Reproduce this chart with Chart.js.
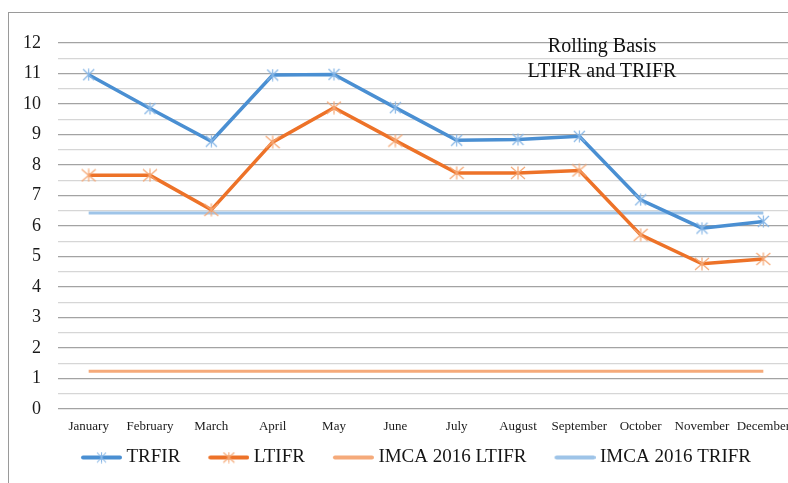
<!DOCTYPE html>
<html><head><meta charset="utf-8">
<script src="https://cdn.jsdelivr.net/npm/chart.js@4/dist/chart.umd.min.js"></script>
<style>
html,body{margin:0;padding:0;background:#fff;overflow:hidden;width:788px;height:483px;}
#frame{position:absolute;left:8px;top:12px;width:1000px;height:1000px;border:1px solid #9a9a9a;}
#wrap{position:absolute;left:0;top:0;width:814px;height:477px;}
#title{position:absolute;left:502px;width:200px;top:33px;text-align:center;font-family:"Liberation Serif",serif;font-size:20px;line-height:25px;color:#111;}
</style></head><body>
<div id="frame"></div>
<div id="wrap"><canvas id="c"></canvas></div>
<div id="title">Rolling Basis<br>LTIFR and TRIFR</div>
<script>
const months = ['January','February','March','April','May','June','July','August','September','October','November','December'];
const trfir = [10.96, 9.85, 8.78, 10.95, 10.97, 9.88, 8.81, 8.84, 8.94, 6.86, 5.93, 6.15];
const ltifr = [7.66, 7.66, 6.53, 8.75, 9.88, 8.8, 7.74, 7.74, 7.82, 5.71, 4.76, 4.92];
const imcaLtifr = [1.24, 1.24, 1.24, 1.24, 1.24, 1.24, 1.24, 1.24, 1.24, 1.24, 1.24, 1.24];
const imcaTrifr = [6.43, 6.43, 6.43, 6.43, 6.43, 6.43, 6.43, 6.43, 6.43, 6.43, 6.43, 6.43];
const seriesNames = ['TRFIR', 'LTIFR', 'IMCA 2016 LTIFR', 'IMCA 2016 TRIFR'];
const yTickLabels = ['0','1','2','3','4','5','6','7','8','9','10','11','12'];

const C_BLUE = '#4a8fd2', C_BLUE_M = '#86b6e6';
const C_ORANGE = '#ed7228', C_ORANGE_M = '#f5a774';
const C_ILT = '#f5aa7a', C_ITR = '#9ec4e8';

function marker(color, w, h, lw){
  const c = document.createElement('canvas'); c.width = w; c.height = h;
  const g = c.getContext('2d'); g.strokeStyle = color; g.lineWidth = lw;
  g.beginPath();
  g.moveTo(w/2, 0.5); g.lineTo(w/2, h-0.5);
  g.moveTo(1, 1); g.lineTo(w-1, h-1);
  g.moveTo(w-1, 1); g.lineTo(1, h-1);
  g.stroke();
  return c;
}
function legendImg(lineColor, mk){
  const W = 64, H = 19;
  const c = document.createElement('canvas'); c.width = W; c.height = H;
  const g = c.getContext('2d');
  g.strokeStyle = lineColor; g.lineWidth = 4; g.lineCap = 'round';
  g.beginPath(); g.moveTo(W-39, H/2); g.lineTo(W-2, H/2); g.stroke();
  if (mk) g.drawImage(mk, W-20.5-mk.width/2, H/2-mk.height/2);
  return c;
}
const mBlue = marker(C_BLUE_M, 13, 13, 1.2);
const mOrange = marker(C_ORANGE_M, 16, 14, 1.2);
const legendImgs = [
  legendImg(C_BLUE, marker(C_BLUE_M, 11, 12, 1.1)),
  legendImg(C_ORANGE, marker(C_ORANGE_M, 13, 12, 1.1)),
  legendImg(C_ILT, null),
  legendImg(C_ITR, null)
];

const serif = '"Liberation Serif", "Times New Roman", serif';

new Chart(document.getElementById('c'), {
  type: 'line',
  data: {
    labels: months,
    datasets: [
      { label: seriesNames[0], data: trfir, borderColor: C_BLUE, backgroundColor: C_BLUE, borderWidth: 3.5,
        pointStyle: mBlue, pointRadius: 7, pointHoverRadius: 7, tension: 0 },
      { label: seriesNames[1], data: ltifr, borderColor: C_ORANGE, backgroundColor: C_ORANGE, borderWidth: 3.5,
        pointStyle: mOrange, pointRadius: 8, pointHoverRadius: 8, tension: 0 },
      { label: seriesNames[2], data: imcaLtifr, borderColor: C_ILT, backgroundColor: C_ILT, borderWidth: 3,
        pointRadius: 0, tension: 0 },
      { label: seriesNames[3], data: imcaTrifr, borderColor: C_ITR, backgroundColor: C_ITR, borderWidth: 3,
        pointRadius: 0, tension: 0 }
    ]
  },
  options: {
    responsive: true, maintainAspectRatio: false, animation: false, devicePixelRatio: 1,
    layout: { padding: { top: 43, left: 0, right: 0, bottom: 0 } },
    plugins: {
      tooltip: { enabled: false },
      title: { display: false },
      legend: {
        position: 'bottom', align: 'center',
        labels: {
          usePointStyle: true, pointStyleWidth: 54, padding: 10,
          color: '#151515', font: { family: serif, size: 19 },
          generateLabels(chart) {
            const items = Chart.defaults.plugins.legend.labels.generateLabels(chart);
            items.forEach((it, i) => { it.pointStyle = legendImgs[i]; it.rotation = 0; });
            return items;
          }
        }
      }
    },
    scales: {
      x: {
        offset: true,
        grid: { display: false, drawTicks: false },
        border: { display: false },
        ticks: { autoSkip: false, maxRotation: 0, padding: 10, color: '#1a1a1a', font: { family: serif, size: 13 } },
        afterFit(s) { s.height = 29; }
      },
      y: {
        min: 0, max: 12,
        border: { display: false },
        grid: { drawTicks: false, lineWidth: 1.2,
          color: ctx => (ctx.tick && ctx.tick.value % 1 === 0) ? '#a3a3a3' : '#d6d6d6' },
        ticks: { stepSize: 0.5, autoSkip: false, padding: 17, color: '#1a1a1a', font: { family: serif, size: 18 },
          callback: v => (v % 1 === 0 ? yTickLabels[v] : '') },
        afterFit(s) { s.width = 58; }
      },
      y2: {
        position: 'right', min: 0, max: 12,
        grid: { display: false, drawTicks: false }, border: { display: false },
        ticks: { display: false },
        afterFit(s) { s.width = 20; }
      }
    }
  }
});
</script>
</body></html>
